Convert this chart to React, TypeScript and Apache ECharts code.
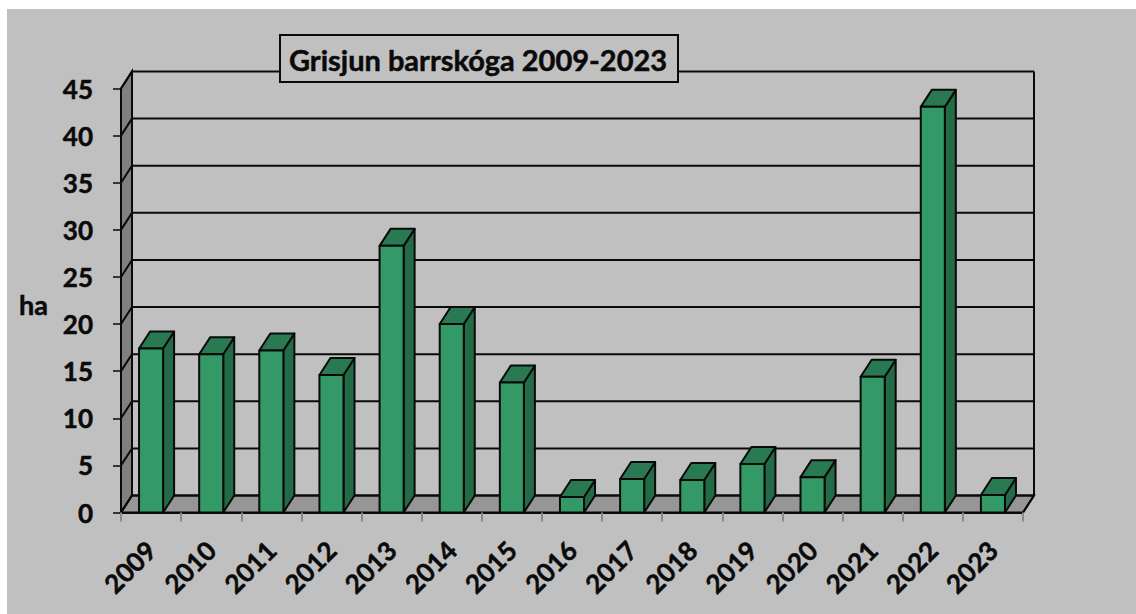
import React, { useEffect, useRef } from "react";
import * as echarts from "echarts";

const years = ["2009","2010","2011","2012","2013","2014","2015","2016","2017","2018","2019","2020","2021","2022","2023"];
const hectares = [17.4, 16.8, 17.2, 14.6, 28.3, 20.0, 13.8, 1.65, 3.55, 3.45, 5.15, 3.75, 14.4, 43.05, 1.85];
const gridValues = [0, 5, 10, 15, 20, 25, 30, 35, 40, 45];
const titleText = "Grisjun barrskóga 2009-2023";
const yName = "ha";

const DX = 11;
const DY = -17;
const FONT = "Lato, sans-serif";
const INK = "#0a0a0a";
const heavy = { textBorderColor: INK, textBorderWidth: 0.5 };

export default function App() {
  const ref = useRef<HTMLDivElement>(null);
  useEffect(() => {
    document.body.style.margin = "0";
    document.body.style.overflow = "hidden";
    const chart = echarts.init(ref.current!, undefined, { renderer: "svg" });
    const line = { stroke: INK, lineWidth: 2, fill: "none" };
    chart.setOption({
      animation: false,
      backgroundColor: "#ffffff",
      graphic: [
        { type: "rect", z: -10, shape: { x: 7, y: 9, width: 1129, height: 605 }, style: { fill: "#c0c0c0" } },
        {
          type: "text",
          z: 10,
          style: {
            text: yName,
            x: 48,
            y: 304,
            align: "right",
            verticalAlign: "middle",
            fontFamily: FONT,
            fontWeight: "bold",
            fontSize: 27,
            fill: INK,
            stroke: INK,
            lineWidth: 0.5,
          },
        },
      ],
      title: {
        text: titleText,
        left: 280,
        top: 35,
        padding: [10, 11, 8, 9],
        borderColor: INK,
        borderWidth: 2,
        backgroundColor: "#c0c0c0",
        textStyle: { fontFamily: FONT, fontWeight: "bold", fontSize: 29, color: INK, ...heavy },
        z: 20,
      },
      grid: { left: 121, right: 113, top: 88.5, bottom: 101.5 },
      xAxis: {
        type: "category",
        data: years,
        axisLine: { lineStyle: { color: INK, width: 2 } },
        axisTick: { show: true, interval: 0, length: 9, lineStyle: { color: "#8a8a8a", width: 2 } },
        axisLabel: { rotate: 45, margin: 33, interval: 0, fontFamily: FONT, fontWeight: "bold", fontSize: 26, color: INK, ...heavy },
        z: 5,
      },
      yAxis: {
        type: "value",
        min: 0,
        max: 45,
        interval: 5,
        axisLine: { show: false },
        axisTick: { show: true, length: 8, lineStyle: { color: INK, width: 1.5 } },
        splitLine: { show: false },
        axisLabel: { margin: 28, fontFamily: FONT, fontWeight: "bold", fontSize: 26, color: INK, ...heavy },
      },
      series: [
        {
          type: "custom",
          name: "walls",
          z: 2,
          silent: true,
          data: [0],
          renderItem: (_p: any, api: any) => {
            const [x0, y0] = api.coord([0, 0]);
            const size = api.size([1, 0]);
            const xl = x0 - size[0] / 2;
            const xr = xl + size[0] * years.length;
            const yTop = api.coord([0, gridValues[gridValues.length - 1]])[1];
            const children: any[] = [
              { type: "polygon", shape: { points: [[xl, y0], [xl + DX, y0 + DY], [xl + DX, yTop + DY], [xl, yTop]] }, style: { fill: "#808080", stroke: INK, lineWidth: 2 } },
              { type: "polygon", shape: { points: [[xl, y0], [xr, y0], [xr + DX, y0 + DY], [xl + DX, y0 + DY]] }, style: { fill: "#969696", stroke: INK, lineWidth: 2 } },
              { type: "polyline", shape: { points: [[xr, y0], [xr + DX, y0 + DY], [xr + DX, yTop + DY]] }, style: line },
            ];
            gridValues.forEach((v) => {
              const y = api.coord([0, v])[1];
              children.push({ type: "polyline", shape: { points: [[xl, y], [xl + DX, y + DY], [xr + DX, y + DY]] }, style: line });
            });
            return { type: "group", children };
          },
        },
        {
          type: "custom",
          name: "ha",
          z: 3,
          data: hectares.map((v, i) => [i, v]),
          encode: { x: 0, y: 1 },
          renderItem: (_p: any, api: any) => {
            const [cx, yt] = api.coord([api.value(0), api.value(1)]);
            const yb = api.coord([0, 0])[1];
            const w = api.size([1, 0])[0] * 0.4;
            const l = cx - w / 2;
            const r = cx + w / 2;
            const stroke = { stroke: INK, lineWidth: 2, lineJoin: "round" };
            return {
              type: "group",
              children: [
                { type: "polygon", shape: { points: [[r, yb], [r + DX, yb + DY], [r + DX, yt + DY], [r, yt]] }, style: { fill: "#236b47", ...stroke } },
                { type: "polygon", shape: { points: [[l, yt], [r, yt], [r + DX, yt + DY], [l + DX, yt + DY]] }, style: { fill: "#297a52", ...stroke } },
                { type: "polygon", shape: { points: [[l, yb], [r, yb], [r, yt], [l, yt]] }, style: { fill: "#339966", ...stroke } },
              ],
            };
          },
        },
      ],
    });
    return () => chart.dispose();
  }, []);
  return <div ref={ref} style={{ width: 1136, height: 614 }} />;
}
